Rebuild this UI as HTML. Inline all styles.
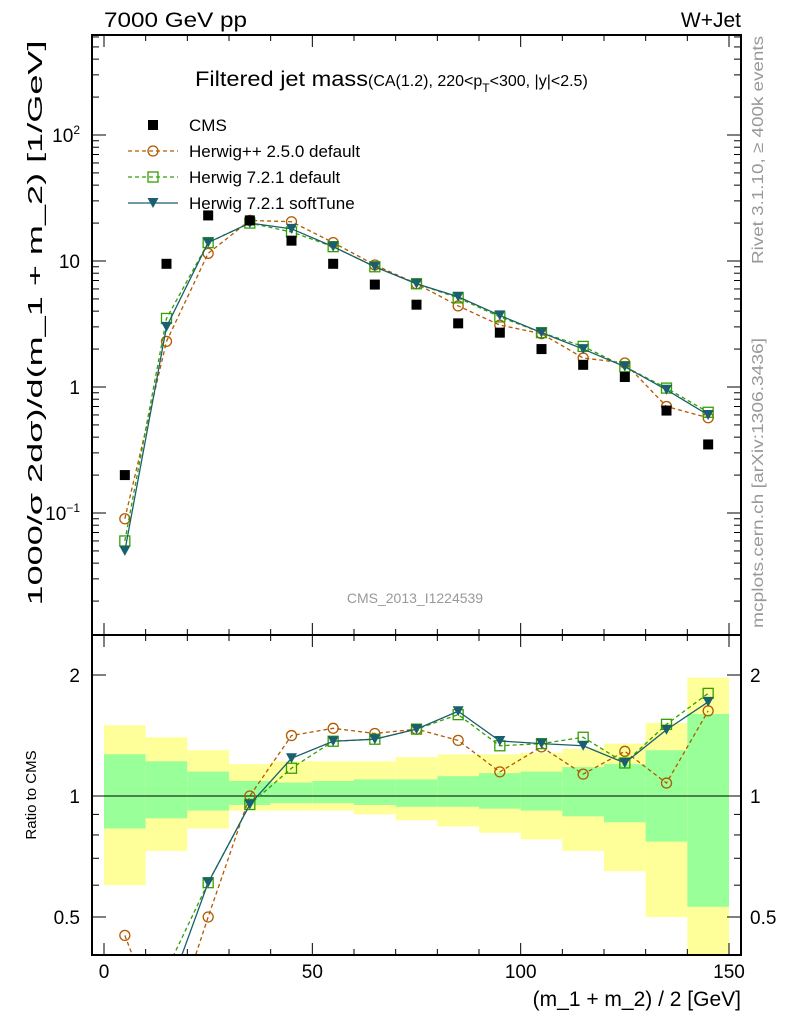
<!DOCTYPE html>
<html><head><meta charset="utf-8"><style>
body{margin:0;background:#fff;}
svg{display:block;font-family:"Liberation Sans",sans-serif;}
</style></head><body>
<svg id="c" width="786" height="1024" xmlns="http://www.w3.org/2000/svg">
<text x="104" y="27" font-size="21" textLength="143" lengthAdjust="spacingAndGlyphs">7000 GeV pp</text>
<text x="741" y="27" font-size="21" text-anchor="end">W+Jet</text>
<text x="195" y="86" font-size="21"><tspan textLength="173" lengthAdjust="spacingAndGlyphs">Filtered jet mass</tspan><tspan font-size="16">(CA(1.2), 220&lt;p</tspan><tspan font-size="12" dy="6">T</tspan><tspan font-size="16" dy="-6">&lt;300, |y|&lt;2.5)</tspan></text>
<text transform="translate(763,150) rotate(-90)" font-size="16" fill="#999" text-anchor="middle" textLength="228" lengthAdjust="spacingAndGlyphs">Rivet 3.1.10, ≥ 400k events</text>
<text transform="translate(763,483) rotate(-90)" font-size="16" fill="#999" text-anchor="middle" textLength="290" lengthAdjust="spacingAndGlyphs">mcplots.cern.ch [arXiv:1306.3436]</text>
<text x="415" y="603" font-size="14" fill="#999" text-anchor="middle">CMS_2013_I1224539</text>
<text transform="translate(42,323) rotate(-90)" font-size="20" text-anchor="middle" textLength="565" lengthAdjust="spacingAndGlyphs">1000/σ 2dσ)/d(m_1 + m_2) [1/GeV]</text>
<text transform="translate(36,795) rotate(-90)" font-size="15" text-anchor="middle">Ratio to CMS</text>
<text x="741" y="1006" font-size="21" text-anchor="end">(m_1 + m_2) / 2 [GeV]</text>
<g id="bands"></g><g id="main"></g><g id="ratio"></g><g id="axes"></g><g id="legend"></g>
</svg>
<script>
const xCenters=[5,15,25,35,45,55,65,75,85,95,105,115,125,135,145];
const cmsVals=[0.2,9.5,23,21,14.5,9.5,6.5,4.5,3.2,2.7,2.0,1.5,1.2,0.65,0.35];
const hppVals=[0.09,2.3,11.5,21,20.5,14,9.3,6.6,4.4,3.1,2.65,1.7,1.55,0.7,0.57];
const h7Vals=[0.06,3.5,14,20,17,13,9,6.6,5.1,3.6,2.7,2.1,1.45,0.98,0.63];
const softVals=[0.05,3.0,14,20,18,13,9,6.6,5.2,3.7,2.7,2.0,1.45,0.95,0.6];
const yellowLo=[0.6,0.73,0.83,0.92,0.92,0.92,0.9,0.87,0.84,0.81,0.78,0.73,0.65,0.5,0.35];
const yellowHi=[1.5,1.4,1.3,1.2,1.22,1.22,1.22,1.25,1.27,1.27,1.28,1.31,1.35,1.52,1.97];
const greenLo=[0.83,0.88,0.92,0.95,0.96,0.96,0.95,0.94,0.94,0.93,0.92,0.89,0.86,0.77,0.53];
const greenHi=[1.27,1.22,1.15,1.09,1.08,1.09,1.1,1.1,1.12,1.14,1.15,1.18,1.2,1.3,1.6];
const xTicks=[0,50,100,150];
const yTicks=[[0.1,"10<tspan dy='-8' font-size='12'>−1</tspan>"],[1,"1"],[10,"10"],[100,"10<tspan dy='-8' font-size='12'>2</tspan>"]];
const rTicks=[[0.5,"0.5"],[1,"1"],[2,"2"]];

const NS="http://www.w3.org/2000/svg";
const L=92,R=741,T=35,M=635,B=955;
const X=v=>104+v*625/150;
const Y=v=>387-126*Math.log10(v);
const RY=v=>796-121*Math.log2(v);
function mk(par,tag,at){const e=document.createElementNS(NS,tag);for(const k in at)e.setAttribute(k,at[k]);document.getElementById(par).appendChild(e);return e;}
const defs=document.createElementNS(NS,'defs');defs.innerHTML=`<clipPath id="cm"><rect x="${L}" y="${T}" width="${R-L}" height="${M-T}"/></clipPath><clipPath id="cr"><rect x="${L}" y="${M}" width="${R-L}" height="${B-M}"/></clipPath>`;
document.getElementById('c').appendChild(defs);
document.getElementById('bands').setAttribute('clip-path','url(#cr)');
document.getElementById('ratio').setAttribute('clip-path','url(#cr)');
document.getElementById('main').setAttribute('clip-path','url(#cm)');
xCenters.forEach((c,i)=>{
 let r=mk('bands','rect',{x:X(c-5),y:RY(yellowHi[i]),width:X(c+5)-X(c-5),height:RY(yellowLo[i])-RY(yellowHi[i]),fill:'#ffff99'});
 
 let g=mk('bands','rect',{x:X(c-5),y:RY(greenHi[i]),width:X(c+5)-X(c-5),height:RY(greenLo[i])-RY(greenHi[i]),fill:'#99ff99'});
 
});
let one=mk('bands','line',{x1:L,x2:R,y1:RY(1),y2:RY(1),stroke:'#000','stroke-width':1});

const series=[
 {vals:hppVals,col:'#b35900',dash:'4,3',mark:'circle',name:'herwigpp'},
 {vals:h7Vals,col:'#33a000',dash:'4,3',mark:'square',name:'herwig7-default'},
 {vals:softVals,col:'#1a5f6e',dash:'',mark:'tri',name:'herwig7-softtune'}];
function marker(par,m,x,y,col){
 let e;
 if(m==='circle')e=mk(par,'circle',{cx:x,cy:y,r:5,fill:'none',stroke:col,'stroke-width':1.3});
 else if(m==='square')e=mk(par,'rect',{x:x-5,y:y-5,width:10,height:10,fill:'none',stroke:col,'stroke-width':1.3});
 else if(m==='tri')e=mk(par,'path',{d:`M${x-5.5},${y-5}L${x+5.5},${y-5}L${x},${y+5}Z`,fill:col});
 else e=mk(par,'rect',{x:x-5,y:y-5,width:10,height:10,fill:'#000'});
 return e;
}
series.forEach(s=>{
 let pm=xCenters.map((c,i)=>X(c)+','+Y(s.vals[i])).join(' ');
 let l=mk('main','polyline',{points:pm,fill:'none',stroke:s.col,'stroke-width':1.3,'stroke-dasharray':s.dash});
 
 let pr=xCenters.map((c,i)=>X(c)+','+RY(s.vals[i]/cmsVals[i])).join(' ');
 let lr=mk('ratio','polyline',{points:pr,fill:'none',stroke:s.col,'stroke-width':1.3,'stroke-dasharray':s.dash});
 
 xCenters.forEach((c,i)=>{
  let e=marker('main',s.mark,X(c),Y(s.vals[i]),s.col);
  
  let f=marker('ratio',s.mark,X(c),RY(s.vals[i]/cmsVals[i]),s.col);
  
 });
});
xCenters.forEach((c,i)=>{
 let e=marker('main','cms',X(c),Y(cmsVals[i]),'#000');
 
});
[[T,M],[M,B]].forEach(([t,b])=>{let f=mk('axes','rect',{x:L,y:t,width:R-L,height:b-t,fill:'none',stroke:'#000','stroke-width':2});
 });
for(let v=0;v<=155;v+=10){const big=v%50===0;const x=X(v);if(x>R)break;
 [[M,-1],[T,1],[B,-1],[M,1]].forEach(([y0,d])=>mk('axes','line',{x1:x,x2:x,y1:y0,y2:y0+d*(big?12:6),stroke:'#000'}));}
xTicks.forEach(v=>{let t=mk('axes','text',{x:X(v),y:978,'font-size':19,'text-anchor':'middle'});t.textContent=v;
 });
for(let d=-2;d<=2;d++)for(let k=1;k<10;k++){const v=k*Math.pow(10,d);const y=Y(v);if(y<T||y>M)continue;const len=k===1?14:7;
 mk('axes','line',{x1:L,x2:L+len,y1:y,y2:y,stroke:'#000'});mk('axes','line',{x1:R,x2:R-len,y1:y,y2:y,stroke:'#000'});}
yTicks.forEach(([v,s])=>{let t=mk('axes','text',{x:80,y:Y(v)+7,'font-size':19,'text-anchor':'end'});t.innerHTML=s;
 });
[0.5,0.6,0.7,0.8,0.9,1,2].forEach(v=>{const y=RY(v);const len=(v===0.5||v===1||v===2)?14:7;
 mk('axes','line',{x1:L,x2:L+len,y1:y,y2:y,stroke:'#000'});mk('axes','line',{x1:R,x2:R-len,y1:y,y2:y,stroke:'#000'});});
rTicks.forEach(([v,s])=>{[[80,'end'],[750,'start']].forEach(([x,a])=>{let t=mk('axes','text',{x:x,y:RY(v)+7,'font-size':19,'text-anchor':a});t.textContent=s;
 });});
const leg=[['CMS','cms','#000',''],['Herwig++ 2.5.0 default','circle','#b35900','4,3'],['Herwig 7.2.1 default','square','#33a000','4,3'],['Herwig 7.2.1 softTune','tri','#1a5f6e','']];
leg.forEach((e,i)=>{const y=125+i*26;
 if(i>0){mk('legend','line',{x1:128,x2:178,y1:y,y2:y,stroke:e[2],'stroke-width':1.3,'stroke-dasharray':e[3]});}
 let m=marker('legend',e[1],153,y,e[2]);
 let t=mk('legend','text',{x:189,y:y+6,'font-size':17});t.textContent=e[0];
 });
</script>
</body></html>
